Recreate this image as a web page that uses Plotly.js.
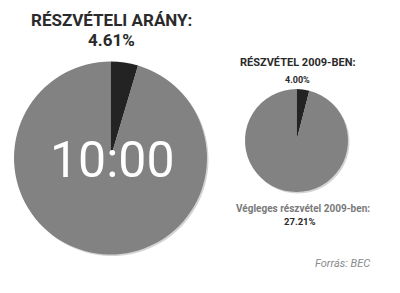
<!DOCTYPE html>
<html><head><meta charset="utf-8">
<script src="https://cdn.plot.ly/plotly-3.0.1.min.js"></script>
<style>html,body{margin:0;padding:0;background:#fff}#chart{width:400px;height:293px}</style>
</head><body><div id="chart"></div>
<script>
const sliceLabels = ['Részvétel', 'Nem szavazott'];
const currentShare = [4.61, 95.39];
const share2009 = [4.00, 96.00];
const titleMain = 'RÉSZVÉTELI ARÁNY:';
const valueMain = '4.61%';
const clockText = '10:00';
const title2009 = 'RÉSZVÉTEL 2009-BEN:';
const value2009 = '4.00%';
const finalTitle = 'Végleges részvétel 2009-ben:';
const finalValue = '27.21%';
const sourceText = 'Forrás: BEC';

const colors = ['#232323', '#828282'];
const shadow = ['#d4d4d4', '#d4d4d4'];
const F = 'Roboto, Arial, sans-serif';

function pie(values, cols, dx, dy){
  return {type:'pie', labels:sliceLabels, values:values, sort:false, direction:'clockwise', rotation:0,
   marker:{colors:cols, line:{width:0}}, textinfo:'none', hoverinfo:'none',
   domain:{x:dx, y:dy}};
}
const sx = 1.5/400, sy = 1.5/293;
const data = [
  pie(currentShare, shadow, [0.035+sx,0.5175+sx], [0.1314-sy,0.790-sy]),
  pie(share2009, shadow, [0.6125+sx,0.87+sx], [0.3447-sy,0.6962-sy]),
  pie(currentShare, colors, [0.035,0.5175], [0.1314,0.790]),
  pie(share2009, colors, [0.6125,0.87], [0.3447,0.6962])
];

const layout = {
  width:400, height:293, margin:{l:0,r:0,t:0,b:0},
  paper_bgcolor:'#fff', showlegend:false,
  annotations:[
    {text:'<b>'+titleMain+'</b>', x:111/400, y:1-20/293, xref:'paper', yref:'paper', showarrow:false, xanchor:'center', yanchor:'middle', font:{family:F, size:17, color:'#2a2a2a'}},
    {text:'<b>'+valueMain+'</b>', x:111/400, y:1-40/293, xref:'paper', yref:'paper', showarrow:false, xanchor:'center', yanchor:'middle', font:{family:F, size:17, color:'#2a2a2a'}},
    {text:clockText, x:113/400, y:1-160/293, xref:'paper', yref:'paper', showarrow:false, xanchor:'center', yanchor:'middle', font:{family:F, size:50, color:'#ffffff'}},
    {text:'<b>'+title2009+'</b>', x:298/400, y:1-63/293, xref:'paper', yref:'paper', showarrow:false, xanchor:'center', yanchor:'middle', font:{family:F, size:11, color:'#2a2a2a'}},
    {text:'<b>'+value2009+'</b>', x:297/400, y:1-80/293, xref:'paper', yref:'paper', showarrow:false, xanchor:'center', yanchor:'middle', font:{family:F, size:9, color:'#2a2a2a'}},
    {text:'<b>'+finalTitle+'</b>', x:303/400, y:1-208/293, xref:'paper', yref:'paper', showarrow:false, xanchor:'center', yanchor:'middle', font:{family:F, size:10, color:'#7a7a7a'}},
    {text:'<b>'+finalValue+'</b>', x:300/400, y:1-222/293, xref:'paper', yref:'paper', showarrow:false, xanchor:'center', yanchor:'middle', font:{family:F, size:9.5, color:'#2a2a2a'}},
    {text:sourceText, x:372/400, y:1-263/293, xref:'paper', yref:'paper', showarrow:false, xanchor:'right', yanchor:'middle', font:{family:F, size:11, color:'#8a8a8a', style:'italic'}}
  ]
};
Plotly.newPlot('chart', data, layout, {staticPlot:true, displayModeBar:false});
</script></body></html>
